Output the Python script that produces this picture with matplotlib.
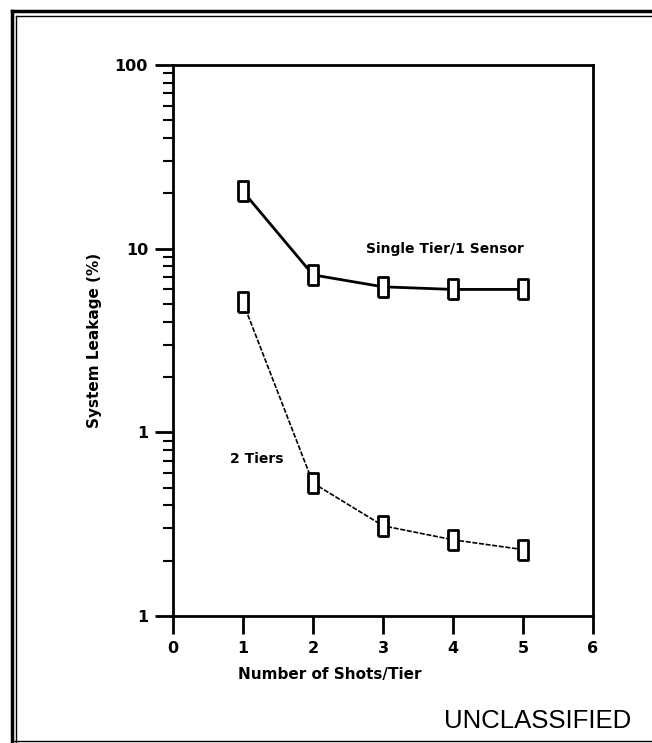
import matplotlib
matplotlib.use('Agg')
import matplotlib.pyplot as plt
from matplotlib.lines import Line2D
from matplotlib.ticker import FixedLocator, LogLocator, NullFormatter

# shots per tier and leakage (%) for each layout
shots = [1, 2, 3, 4, 5]
single_tier = [20.5, 7.2, 6.2, 6.0, 6.0]
two_tiers = [5.1, 0.53, 0.31, 0.26, 0.23]

y_ticks = [0.1, 1, 10, 100]
y_tick_labels = ['1', '1', '10', '100']
x_ticks = [0, 1, 2, 3, 4, 5, 6]

plt.rcParams['font.family'] = ['DejaVu Sans']

fig = plt.figure(figsize=(6.52, 7.43), dpi=100)
ax = fig.add_axes([0.2653, 0.1709, 0.6442, 0.7416])

# tall open box marker
box = [(-0.5, -1), (0.5, -1), (0.5, 1), (-0.5, 1), (-0.5, -1)]

ax.plot(shots, single_tier, color='black', lw=2.0, marker=box, ms=15,
        mfc='white', mec='black', mew=2.0)
ax.plot(shots, two_tiers, color='black', lw=1.2, ls=(0, (3, 1)), marker=box,
        ms=15, mfc='white', mec='black', mew=2.0)

ax.set_yscale('log')
ax.set_ylim(0.1, 100)
ax.set_xlim(0, 6)
ax.yaxis.set_major_locator(FixedLocator(y_ticks))
ax.set_yticklabels(y_tick_labels)
ax.yaxis.set_minor_locator(LogLocator(base=10, subs=range(2, 10)))
ax.yaxis.set_minor_formatter(NullFormatter())
ax.set_xticks(x_ticks)

ax.tick_params(which='major', direction='out', length=13, width=2.0,
               labelsize=11.5, pad=5)
ax.tick_params(which='minor', direction='out', length=7, width=1.5)
for lab in ax.get_xticklabels() + ax.get_yticklabels():
    lab.set_fontweight('bold')
for s in ax.spines.values():
    s.set_linewidth(2.0)

ax.set_ylabel('System Leakage (%)', fontsize=11, fontweight='bold')
ax.yaxis.set_label_coords(-0.17, 0.5)
ax.set_xlabel('Number of Shots/Tier', fontsize=11, fontweight='bold')
ax.xaxis.set_label_coords(0.374, -0.092)

ax.text(3.89, 9.9, 'Single Tier/1 Sensor', fontsize=10, fontweight='bold',
        ha='center', va='center')
ax.text(1.2, 0.72, '2 Tiers', fontsize=10, fontweight='bold',
        ha='center', va='center')

fig.text(0.824, 0.030, 'UNCLASSIFIED', fontsize=18.5, ha='center', va='center',
         family='Liberation Sans')

# page frame: double rule on the left and top, thin rule at the bottom
frame = [
    ([0.019, 0.019], [0.0, 0.985], 2.5),
    ([0.025, 0.025], [0.0, 0.979], 1.0),
    ([0.019, 1.0], [0.985, 0.985], 2.5),
    ([0.025, 1.0], [0.979, 0.979], 1.0),
    ([0.019, 1.0], [0.003, 0.003], 1.0),
]
for xs, ys, w in frame:
    fig.add_artist(Line2D(xs, ys, transform=fig.transFigure, color='black', lw=w))

fig.savefig('out.png', dpi=100)
